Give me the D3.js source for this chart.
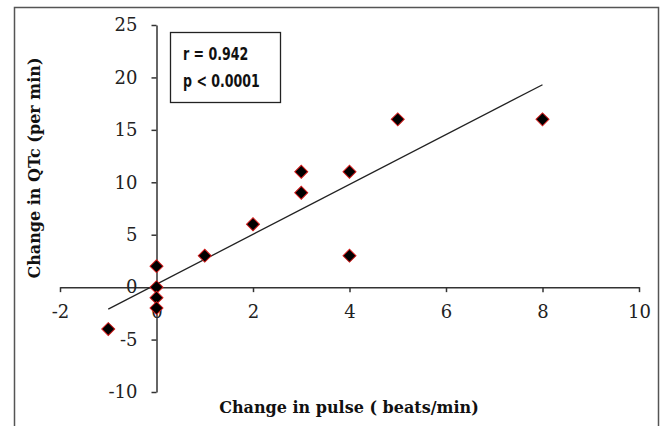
<!DOCTYPE html>
<html>
<head>
<meta charset="utf-8">
<script src="https://cdn.jsdelivr.net/npm/d3@7/dist/d3.min.js"></script>
<style>
  html, body { margin: 0; padding: 0; background: #fff; }
  svg { display: block; }
  .tick text { font-family: 'DejaVu Serif', serif; font-size: 18px; fill: #222; }
  .axis-title { font-family: 'DejaVu Serif', serif; font-weight: bold; font-size: 16px; fill: #111; }
  .stat { font-family: 'DejaVu Sans', sans-serif; font-weight: bold; font-size: 18px; fill: #111; }
</style>
</head>
<body>
<svg id="chart" width="662" height="426"></svg>
<script>
// data
const pulseChange = [-1, 0, 0, 0, 0, 1, 2, 3, 3, 4, 4, 5, 8];
const qtcChange   = [-4, 2, 0, -1, -2, 3, 6, 11, 9, 11, 3, 16, 16];
const trendX = [-1, 8];
const trendY = [-2.1, 19.3];
const xTicks = [-2, 0, 2, 4, 6, 8, 10];
const yTicks = [-10, -5, 0, 5, 10, 15, 20, 25];
const statLines = ['r = 0.942', 'p < 0.0001'];

const svg = d3.select('#chart');

// outer frame (bottom edge runs off the image)
svg.append('rect')
  .attr('x', 14.5).attr('y', 7.5).attr('width', 644).attr('height', 440)
  .attr('fill', 'none').attr('stroke', '#555').attr('stroke-width', 1.5);

const x = d3.scaleLinear().domain([-2, 10]).range([60, 639]);
const y = d3.scaleLinear().domain([-10, 25]).range([392, 25]);
const fmt = d => String(d);  // plain hyphen for negatives

// axes cross at 0,0
const xAxis = svg.append('g')
  .attr('transform', `translate(0,${y(0)})`)
  .call(d3.axisBottom(x).tickValues(xTicks).tickFormat(fmt)
    .tickSizeOuter(0).tickSizeInner(5).tickPadding(13));
const yAxis = svg.append('g')
  .attr('transform', `translate(${x(0)},0)`)
  .call(d3.axisLeft(y).tickValues(yTicks).tickFormat(fmt)
    .tickSizeOuter(0).tickSizeInner(5).tickPadding(14));

[xAxis, yAxis].forEach(a => {
  a.select('.domain').attr('stroke', '#333').attr('stroke-width', 1.5);
  a.selectAll('.tick line').attr('stroke', '#333').attr('stroke-width', 1.5);
});

// trend line
svg.append('line')
  .attr('x1', x(trendX[0])).attr('y1', y(trendY[0]))
  .attr('x2', x(trendX[1])).attr('y2', y(trendY[1]))
  .attr('stroke', '#222').attr('stroke-width', 1.3);

// points: black diamonds with red edge
const pts = pulseChange.map((v, i) => [v, qtcChange[i]]);
svg.append('g').selectAll('path')
  .data(pts)
  .join('path')
  .attr('d', d3.symbol(d3.symbolSquare, 84))
  .attr('transform', d => `translate(${x(d[0])},${y(d[1])}) rotate(45)`)
  .attr('fill', '#000').attr('stroke', '#d21a1a').attr('stroke-width', 1);

// stats box
svg.append('rect')
  .attr('x', 170.5).attr('y', 32.5).attr('width', 110).attr('height', 70)
  .attr('fill', '#fff').attr('stroke', '#222').attr('stroke-width', 1.3);
svg.append('g')
  .attr('transform', 'translate(183,0) scale(0.7,1)')
  .selectAll('text')
  .data(statLines)
  .join('text').attr('class', 'stat')
  .attr('x', 0).attr('y', (d, i) => 60 + i * 27)
  .text(d => d);

// axis titles
svg.append('text').attr('class', 'axis-title')
  .attr('x', 349).attr('y', 413).attr('text-anchor', 'middle')
  .text('Change in pulse ( beats/min)');
svg.append('text').attr('class', 'axis-title')
  .attr('transform', 'translate(40,168) rotate(-90)')
  .attr('text-anchor', 'middle')
  .text('Change in QTc (per min)');
</script>
</body>
</html>
